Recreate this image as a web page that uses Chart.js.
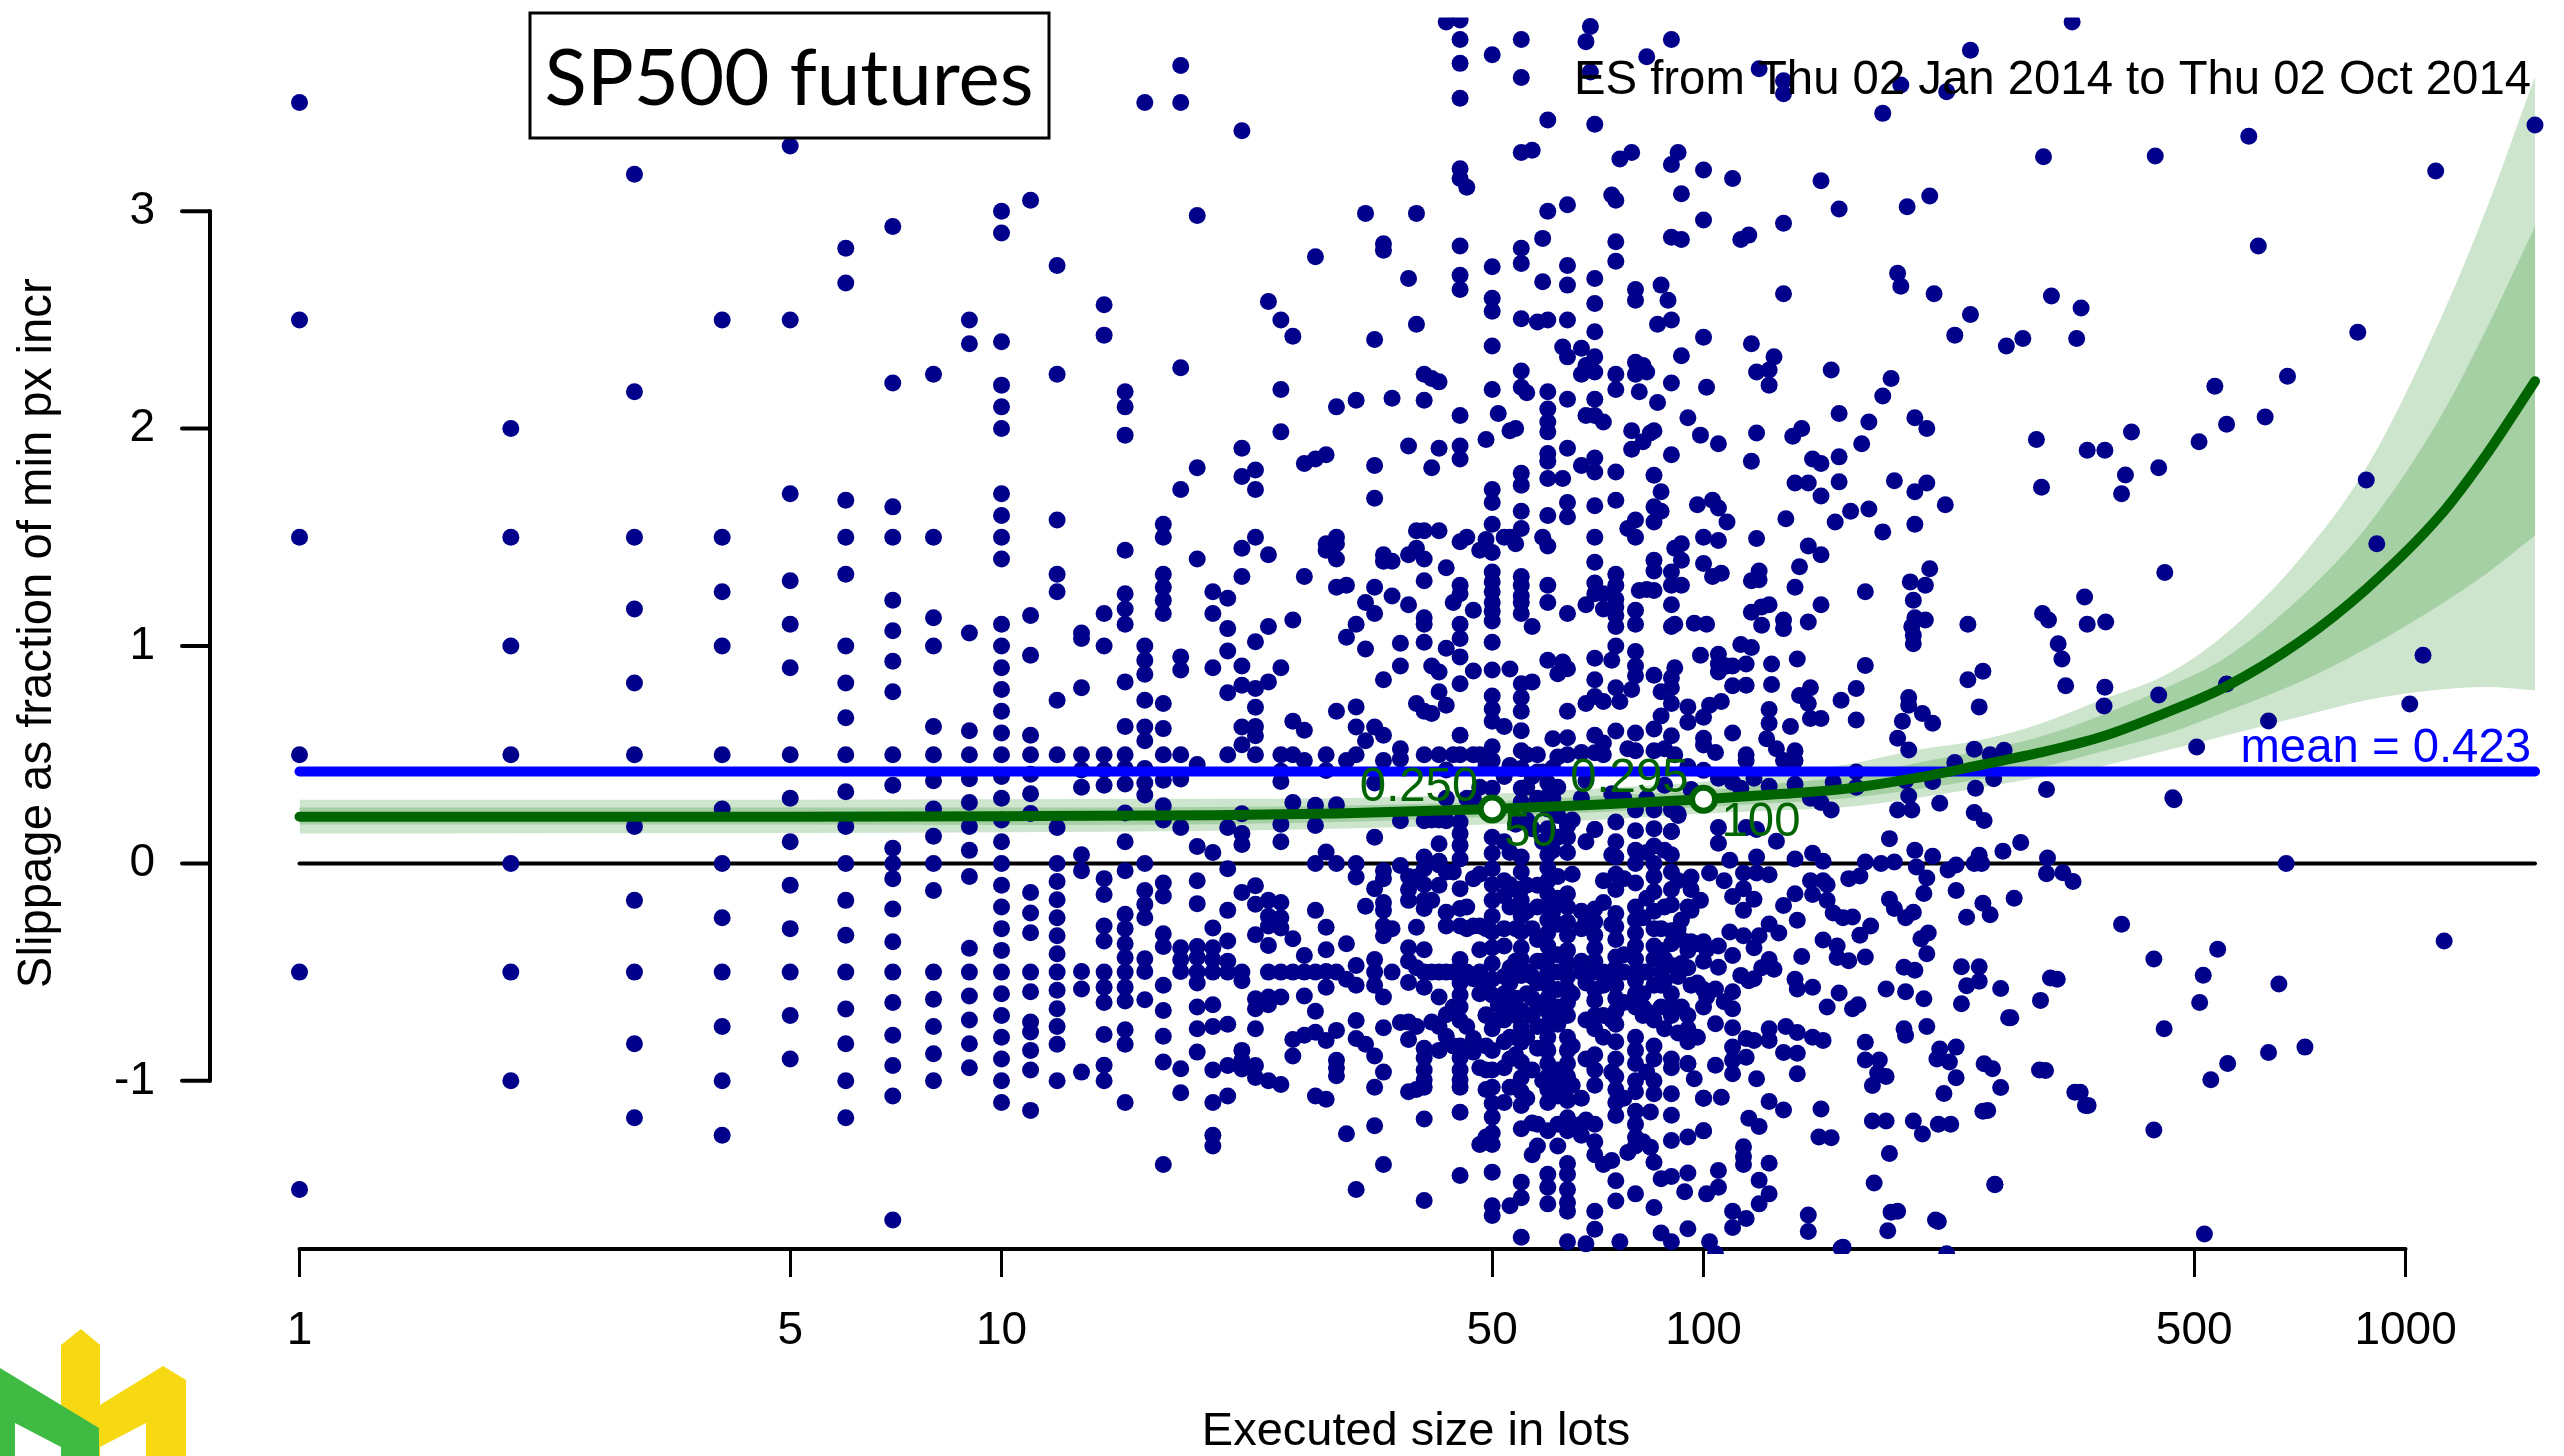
<!DOCTYPE html>
<html><head><meta charset="utf-8">
<style>html,body{margin:0;padding:0;background:#fff}canvas{display:block}</style>
<script src="https://cdn.jsdelivr.net/npm/chart.js@4"></script>
</head><body><canvas id="c" width="2564" height="1456"></canvas>
<script>
const xTickValues=[1,5,10,50,100,500,1000];
const yTickValues=[-1,0,1,2,3];
const meanSlip=0.423;
// fitted curve and its two confidence bands
const fitLots=[1,5,10,20,30,50,70,100,130,160,200,250,300,367,457,556,707,881,1120,1300,1529];
const fitLine=[.215,.215,.217,.222,.23,.25,.27,.295,.32,.344,.392,.455,.508,.58,.695,.815,1.02,1.265,1.6,1.875,2.218];
const outerHigh=[.293,.293,.295,.297,.3,.32,.345,.376,.42,.455,.52,.57,.64,.75,.87,1.06,1.4,1.824,2.5,3,3.62];
const innerHigh=[.257,.257,.257,.26,.265,.285,.31,.335,.37,.4,.46,.52,.58,.678,.81,.95,1.221,1.549,2.05,2.45,2.93];
const innerLow=[.179,.179,.177,.18,.19,.215,.235,.26,.28,.3,.34,.39,.44,.513,.596,.7,.834,.99,1.19,1.33,1.508];
const outerLow=[.1375,.14,.143,.15,.16,.18,.2,.23,.245,.26,.3,.35,.395,.445,.52,.59,.675,.752,.8,.812,.797];
const markerLots=[50,100];
const markerFit=[.25,.295];
// executions: small sizes, per lot size
const lowLots=[1,2,3,4,5,6,7,8,9,10,11,12];
const lowSlips=[
[3.5,2.5,1.5,.5,-.5,-1.5],
[2,1.5,1,.5,0,-.5,-1],
[3.17,2.17,1.5,1.17,.83,.5,.17,-.17,-.5,-.83,-1.17],
[2.5,1.5,1.25,1,.5,.25,0,-.25,-.5,-.75,-1,-1.25],
[3.3,2.5,1.7,1.3,1.1,.9,.5,.3,.1,-.1,-.3,-.5,-.7,-.9],
[2.83,2.67,1.67,1.5,1.33,1,.83,.67,.5,.33,.17,0,-.17,-.33,-.5,-.67,-.83,-1,-1.17],
[2.93,2.21,1.64,1.5,1.21,1.07,.93,.79,.5,.36,.07,0,-.07,-.21,-.36,-.5,-.64,-.79,-.93,-1.07,-1.64],
[2.25,1.5,1.13,1,.63,.5,.38,.25,.125,0,-.125,-.5,-.625,-.75,-.875,-1],
[2.5,2.39,1.06,.61,.5,.39,.28,.17,.06,-.06,-.39,-.5,-.61,-.72,-.83,-.94],
[3,2.9,2.4,2.2,2.1,2,1.7,1.6,1.5,1.4,1.1,1,.9,.8,.7,.6,.5,.4,.3,.2,.1,0,-.1,-.2,-.3,-.4,-.5,-.6,-.7,-.8,-.9,-1,-1.1],
[3.05,1.14,.957,.59,.5,.41,.32,.23,-.134,-.228,-.319,-.5,-.59,-.73,-.775,-.86,-.95,-1.136],
[2.75,2.25,1.58,1.33,1.25,.75,.5,.165,0,-.083,-.167,-.25,-.333,-.415,-.5,-.583,-.668,-.75,-.832,-1]
];
// executions: mid sizes, per lot size
const midLots=[13,14,15,16,17,18,19,20,21,22,23,24,25,26,27,28,29,30,31,32,33,34,35,36,37,38,39,40,41,42,43,44,45,46,47,48,49,50,51,52,53,54,55,56,57,58,59,60];
const midSlips=[
[1.06,1.035,.808,.5,.43,.35,.04,-.034,-.497,-.578,-.96],
[2.57,2.43,1.15,1,.5,.43,.36,-.07,-.143,-.288,-.357,-.5,-.57,-.64,-.787,-.928,-1],
[2.17,2.1,1.97,1.44,1.24,1.17,1.1,.835,.63,.5,.437,.365,.232,.1,-.034,-.234,-.3,-.37,-.433,-.5,-.57,-.633,-.765,-.832,-1.1],
[3.5,1,.935,.87,.75,.627,.564,.437,.37,.315,0,-.125,-.188,-.25,-.438,-.497,-.627],
[1.56,1.5,1.33,1.27,1.21,1.15,.736,.62,.5,.383,.265,.2,-.09,-.15,-.324,-.382,-.56,-.677,-.795,-.913,-1.385],
[3.67,3.5,2.28,1.72,.95,.89,.5,.388,.165,-.388,-.442,-.497,-.944,-1.055],
[2.98,1.82,1.4,.455,.078,-.08,-.185,-.382,-.433,-.5,-.55,-.66,-.76,-.868],
[1.25,1.15,.9,.05,-.297,-.388,-.442,-.5,-.65,-.75,-.95,-1.1,-1.25,-1.3],
[1.22,1.08,.977,.785,.5,.165,-.025,-.216,-.357,-.45,-.5,-.74,-.93,-1.07],
[3.37,1.91,1.78,1.45,1.32,.908,.82,.627,.546,.228,.138,.087,-.134,-.5,-.54,-.86,-.905,-.946],
[1.81,1.72,1.5,1.02,.805,.718,.63,.587,.5,-.103,-.188,-.328,-.623,-.668,-.76,-.93,-.985],
[2.585,1.42,1.09,.835,-.17,-.243,-.288,-.378,-.5,-.614,-.65,-1],
[2.5,2.18,1.985,.9,.5,.424,.377,.18,.1,-.18,-.25,-.297,-.5,-.614,-1.017],
[2.425,1.12,.654,.5,.28,-.346,-.5,-.81,-.886],
[1.84,1.32,.612,.473,-.424,-.5,-.61,-.79],
[2.79,1.86,.268,.174,0,-.216,-.5,-.68,-.777,-1.07],
[1.88,1.47,1.44,.5,.427,.053,-.294,-.397,-.497,-.57,-.814,-1.085],
[2.1,1.5,1.47,1.4,1.27,.7,.27,0,-.5,-.768,-.905,-.94,-.977],
[1.28,1.04,.473,-.37,-.533,-1.243],
[2.13,1.1,.72,.627,.5,0,-.062,-.47,-.56,-.723,-.805,-1.5],
[2.99,1.2,.986,.564,-.197,-.832],
[2.41,1.83,1.68,1.27,1.15,.627,.37,.12,-.116,-.442,-.5,-.56,-.886,-1.03,-1.207],
[2.85,2.82,1.42,1.39,.845,.59,.473,-.034,-.07,-.18,-.216,-.288,-.333,-.614,-.756,-.96,-1.385],
[2.14,1.39,1.23,-.3,-.5],
[1.013,.908,.527,.48,.196,-.01,-.732],
[2.69,1.92,1.42,1.19,-.388,-.45,-.548,-.81,-1.05,-.06,-.12,-.17,-.73],
[2.99,2.48,1.53,1.45,.736,-.062,-.294,-1.04,-.75,-.48],
[2.25,2.13,1.53,1.4,1.3,1.13,1.1,1.017,.7,.5,.196,.03,-.025,-.098,-.17,-.207,-.397,-.5,-.57,-.85,-.895,-.95,-.995,-1.03,-1.176,-1.55],
[2.23,1.82,.908,.69,-.17,-.5,-.73,.2],
[2.215,1.91,1.53,.88,.79,.5,.2,.09,-.007,-.614,-.75,.01,-.5,-.86,-.1],
[3.87,1.36,.99,.727,.196,-.225,-.288,-.696,-.795,.43,.3,-.5,-.04],
[1.2,-.04,-.5,-.84,-.66,.5],
[3.88,3.79,3.68,3.52,3.195,3.15,2.84,2.705,2.64,2.06,1.92,1.86,1.48,1.28,1.24,1.1,1.035,.95,.826,.59,.5,.19,.137,.083,.02,-.116,-.207,-.288,-.442,-.5,-.55,-.605,-.66,-.723,-.84,-.895,-.95,-.995,-1.03,-1.145,-1.435],
[3.11,1.5,-.5,-.2,-.3,.3,-.75],
[1.165,.885,-.07,-.288,-.805,-.868,-.53,.3,.5],
[1.44,-.288,-.397,-.94,-1.293,-.5,-.6,-.05,.5,.35],
[1.95,1.49,-.696,-1.04,-1.258,-.55,-.7,-.84,-.95,.45,-.3],
[3.72,2.745,2.6,2.54,2.38,2.18,1.72,1.66,1.56,1.43,1.34,1.295,1.25,1.2,1.16,1.115,1.017,.89,.77,.71,.654,.537,.473,.346,.12,.047,-.025,-.098,-.17,-.243,-.315,-.388,-.46,-.533,-.605,-.76,-.86,-.95,-1.03,-1.103,-1.167,-1.24,-1.293,-1.42,-1.575,-1.62],
[2.07,-.65,-.72],
[1.5,.63,-.15,-.3,-.52,-.6,-.67,-.72,-.94,.4,.1,-.08,-.38,-.82,-1.1],
[1.99,1.5,.894,-.098,-.2,-.55,-.8,-1.03,-1.575,.45,.05,-.48,-.66,-.9],
[2,1.47,-.3,-.45,-.62,-.7,.18,-.12,-.5,-.88],
[3.79,3.615,3.27,2.83,2.76,2.505,2.265,2.19,1.795,1.74,1.62,1.54,1.32,1.28,1.23,1.2,1.15,.826,.763,.7,.61,.518,.437,.346,.283,.03,-.04,-.116,-.17,-.243,-.315,-.388,-.442,-.515,-.677,-.75,-.822,-.913,-.986,-1.05,-1.113,-1.22,-1.466,-1.538,-1.72],
[2.165,.35,.2,-.1,-.22,-.5,-.6,.5,-.8,-1.08],
[3.28,1.09,.835,-.3,-.52,-.7,-1.194,-1.34,.4,.16,-.62,-.95],
[2.49,.42,.5,.3,-.1,-.2,-.35,-.45,-.55,-.65,-.75,-.85,-1.2,-1.3],
[2.875,2.675,1.5,.42,.1,-.45,-.65,-.85,-1],
[3.42,3,2.5,2.17,2.09,2.03,1.985,1.885,1.85,1.77,1.6,1.46,1.28,1.2,.935,.37,.31,.25,.16,.1,.04,-.02,-.08,-.14,-.2,-.26,-.32,-.38,-.44,-.5,-.56,-.62,-.68,-.74,-.8,-.86,-.92,-.98,-1.04,-1.1,-1.23,-1.43,-1.49,-1.566]
];
// executions: dense columns of large sizes
const denseLots=[62,64,67,70,72,75,80,82,85,87,90,93,95,98,100];
const denseSlips=[
[.35,.22,.12,-.06,-.16,-.28,-.42,-.5,-.58,-.66,-.74,-.95,-1.01,-1.07,-1.2,-1.3],
[.174,.12,.05,-.14,-.2,-.27,-.33,-.4,-.46,-.52,-.58,-.64,-.7,-.8,-.86,-.92,-.98,-1.03,-1.09,-1.17,-1.23,-1.38,-1.43,-1.5,-1.56,-1.6,-1.74],
[.3,-.22,-.3,-.45,-.5,-1.08,-1.2,-1.25],
[.156,-.21,-.27,-.33,-.39,-.45,-.5,-.58,-.63,-.7,-.76,-.88,-.95,-1.02,-1.2,-1.28,-1.34,-1.6,-1.683],
[-.08,-.18,-.5,-.56,-.7,-.8,-1.385],
[.19,.1,.03,-.05,-.12,-.23,-.29,-.35,-.43,-.48,-.56,-.62,-.68,-.74,-.82,-.9,-.98,-1.04,-1.1,-1.16,-1.46,-1.553],
[.246,.15,.06,0,-.09,-.2,-.26,-.32,-.38,-.44,-.5,-.54,-.6,-.66,-.8,-.86,-.92,-1,-1.05,-1.14,-1.2,-1.26,-1.3,-1.52],
[-.25,-.5,-.6,-.66,-.7,-1.28],
[.246,.16,.08,0,-.06,-.13,-.22,-.3,-.38,-.44,-.56,-.72,-.84,-.9,-1,-1.06,-1.375,-1.583],
[-.3,-.4,-.5,-.56,-.66,-1.45,-1.7],
[.147,.04,-.04,-.12,-.19,-.31,-.37,-.47,-.6,-.66,-.7,-.9,-.94,-1.06,-1.158,-1.275,-1.44,-1.74],
[-.26,-.35,-.46,-.66],
[-.2,-.4,-.48,-.7,-.76,-.82,-.92,-1.258,-1.424,-1.68],
[-.37,-.55,-.8],
[-.36,-.45,-.58,-.66,-1.08,-1.23]
];
// executions: a few more in the crowded centre, estimated by eye
const packedLots=[61,65,68,74,77,83,88,92,96];
const packedSlips=[
[.44,.3,.06,-.22,-.5,-.7,-1.02],
[.2,-.05,-.6,-.84,-1.02,-1.2],
[.38,.1,-.26,-.55,-.72,-.9,-1.18],
[.32,.04,-.28,-.5,-.72,-.96],
[.3,-.07,-.42,-.5,-.64,-1.08],
[.3,.05,-.16,-.5,-.68,-.96],
[.36,.06,-.2,-.44,-.54,-.76],
[.22,-.08,-.3,-.52,-.78],
[.34,-.12,-.36,-.56]
];
// single executions, flat pairs: lots, slippage
const upperPairs=[69,3.85,68,3.78,69,3.64,90,3.79,83,3.71,120,3.655,130,3.6,130,3.54,191,3.58,222,3.55,240,3.74,335,3.87,180,3.45,70,3.4,79,3.27,76,3.24,92,3.27,90,3.215,100,3.19,110,3.15,147,3.14,305,3.25,210,3.07,195,3.02,156,3.01,74,3.075,75,3.05,93,3.08,64,3.03,100,2.96,130,2.945,116,2.89,113,2.87,90,2.88,93,2.87,75,2.86,75,2.77,64,2.75,70,2.69,64,2.66,87,2.66,80,2.64,80,2.59,89,2.59,70,2.575,130,2.62,189,2.715,191,2.655,213,2.62,313,2.61,345,2.555,240,2.525,228,2.43,270,2.38,285,2.415,340,2.415,90,2.5,86,2.48,64,2.5,70,2.445,100,2.42,117,2.39,126,2.33,63,2.375,67,2.37,64,2.33,70,2.33,68,2.29,67,2.25,70,2.26,75,2.25,75,2.18,80,2.305,82,2.29,80,2.25,83,2.26,93,2.335,119,2.26,124,2.27,124,2.2,152,2.27,90,2.21,81,2.17,101,2.19,86,2.12,64,2.135,70,2.135,185,2.23,180,2.15,156,2.07,172,2.03,200,2.05,208,2,298,1.95,352,1.9,68,2.06,70,2.06,72,2.03,95,2.05,79,1.99,84,1.98,85,1.99,99,1.97,105,1.93,119,1.98,138,2,134,1.965,82,1.94,79,1.905,90,1.88,64,1.91,67,1.83,70,1.865,70,1.8,75,1.8,85,1.785,117,1.85,143,1.86,147,1.84,156,1.87,168,1.93,63,1.77,87,1.71,135,1.75,141,1.75,156,1.755,187,1.76,208,1.75,200,1.71,147,1.69,303,1.73,221,1.65,172,1.63,162,1.62,154,1.57,180,1.525,200,1.56,131,1.585,75,1.67,70,1.645,64,1.66,64,1.595,85,1.64,87,1.62,80,1.58,85,1.57,78,1.54,80,1.5,70,1.5,98,1.65,103,1.67,105,1.635,108,1.57,100,1.5,105,1.485,119,1.495,91,1.45,93,1.47,141,1.46,147,1.42,93,1.395,100,1.38,85,1.395,85,1.345,70,1.385,137,1.365,120,1.345,210,1.355,90,1.34,106,1.335,103,1.32,90,1.28,93,1.28,117,1.3,120,1.305,75,1.33,75,1.28,70,1.29,197,1.295,207,1.28,135,1.27,170,1.25,199,1.21,81,1.255,83,1.26,85,1.255,349,1.225,90,1.19,147,1.19,124,1.19,121,1.18,117,1.155,64,1.15,80,1.165,75,1.215,75,1.18,75,1.14,75,1.09,68,1.19,70,1.24,72,1.24,72,1.17,80,1.1,304,1.15,310,1.12,238,1.1,200,1.13,207,1.12,198,1.09,141,1.11,130,1.12,121,1.095,130,1.08,90,1.09,91,1.1,97,1.105,101,1.1,352,1.1,
1529,3.396,1104,3.185,598,3.345,440,3.254,617,2.84,855,2.443,679,2.241,535,2.195,556,2.02,631,2.053,508,1.94,407,1.984,373,1.9,399,1.787,394,1.7,445,1.82,879,1.764,910,1.47,454,1.338,374,1.11];
const midPairs=[199,1.01,199,1.05,320,1.01,324,.94,328,.817,250,.884,238,.845,247,.72,170,.91,165,.805,157,.75,165,.66,196,.763,196,.727,205,.69,212,.645,192,.654,189,.576,196,.522,243,.525,228,.464,256,.5,268,.52,259,.39,308,.34,244,.346,212,.377,194,.38,165,.35,165,.42,196,.31,217,.277,243,.234,251,.197,189,.246,198,.246,152,.246,147,.28,142,.3,184,.114,283,.096,267,.056,200,.06,212,.033,247,.038,243,0,249,0,229,-.007,223,-.03,201,-.016,187,.007,179,0,170,.007,161,-.07,167,-.058,143,.047,148,.01,135,.02,119,.03,109,.015,309,.025,308,-.047,325,-.043,336,-.083,
373,.81,372,.724,445,.775,556,.825,1059,.958,1014,.733,638,.655,504,.536,466,.302,676,0,468,.293,
70,.944,74,.935,75,1,80,.975,63,.926,64,.895,62,.872,80,.908,80,.863,91,.9,90,.854,85,.866,70,.845,75,.808,79,.8,90,.808,90,.736,87,.79,70,.768,68,.736,72,.745,76,.745,64,.7,87,.678,95,.72,95,.649,100,.672,102,.727,106,.745,99,.957,105,.962,105,.917,105,.88,108,.908,110,.908,110,.817,115,.917,115,.82,113,1.007,117,.993,125,.917,125,.823,136,.94,142,.808,137,.772,141,.736,124,.708,147,.667,142,.667,124,.645,133,.63,123,.573,110,.6,100,.576,100,.545,104,.51,115,.5,115,.473,127,.527,135,.518,130,.473,135,.473,75,.609,80,.6,64,.578,70,.59,85,.618,90,.587,61,.573,72,.554,78,.527,80,.518,88,.527,85,.518,70,.509,72,.5,64,.5,62,.49,67,.51,91,.5,95,.446,100,.428,105,.392,110,.373,118,.392,124,.355,135,.364,153,.373,113,.346,90,.246,92,.228,90,.147,105,.165,105,.093,115,.165,119,.156,127,.102,70,.156,64,.174];
const lowerPairs=[208,-.067,229,-.125,206,-.138,277,-.16,250,-.183,256,-.236,237,-.248,184,-.165,187,-.207,199,-.225,194,-.25,209,-.32,204,-.346,208,-.415,233,-.475,247,-.475,247,-.542,237,-.563,319,-.533,265,-.575,302,-.63,233,-.645,272,-.71,200,-.491,193,-.478,182,-.578,194,-.59,206,-.623,161,-.448,170,-.43,155,-.433,148,-.352,155,-.38,167,-.33,173,-.288,163,-.246,158,-.25,153,-.228,136,-.261,130,-.194,135,-.14,143,-.143,150,-.17,148,-.08,150,-.098,142,-.08,138,-.428,124,-.279,128,-.32,120,-.333,114,-.216,118,-.165,114,-.116,110,-.152,124,-.052,119,-.044,114,-.044,99,-.17,96,-.216,96,-.062,102,-.044,107,-.08,
156,-.596,150,-.66,163,-.669,166,-.65,143,-.57,136,-.578,135,-.533,126,-.487,124,-.442,121,-.48,116,-.54,118,-.53,113,-.515,105,-.478,101,-.397,105,-.38,109,-.315,114,-.333,118,-.388,110,-.424,101,-.614,104,-.578,110,-.59,107,-.636,110,-.669,104,-.738,110,-.756,115,-.805,118,-.814,124,-.76,131,-.75,136,-.778,143,-.8,148,-.814,124,-.814,130,-.87,136,-.873,110,-.845,110,-.905,115,-.892,104,-.928,110,-.968,136,-.968,119,-.99,170,-.823,170,-.904,178,-.904,177,-.964,182,-.98,174,-1.022,193,-.76,194,-.79,208,-.75,217,-.854,229,-.845,215,-.9,224,-.913,229,-.986,220,-1.058,251,-.922,258,-.944,307,-.953,265,-1.031,344,-1.053,353,-1.113,250,-1.14,225,-1.2,216,-1.2,205,-1.245,199,-1.185,182,-1.185,174,-1.185,184,-1.334,175,-1.47,260,-1.478,189,-1.6,216,-1.647,183,-1.69,141,-1.617,141,-1.693,158,-1.765,147,-1.13,130,-1.134,124,-1.095,146,-1.258,152,-1.262,116,-1.172,120,-1.21,114,-1.303,114,-1.348,114,-1.385,124,-1.379,120,-1.457,124,-1.52,120,-1.566,105,-1.412,105,-1.49,101,-1.52,100,-1.23,106,-1.076,100,-1.08,97,-.99,95,-.922,94,-1.51,110,-1.6,115,-1.633,110,-1.675,102,-1.74,76,-1.74,68,-1.75,74,-1.367,78,-1.33,84,-1.305,84,-1.143,
1135,-.357,540,-.395,438,-.44,515,-.514,660,-.555,312,-.527,394,-.28,719,-.845,638,-.87,558,-.92,528,-.995,453,-.76,509,-.64,438,-1.226,517,-1.705,301,-.95,338,-1.053,350,-1.113,274,-.71,254,-1.137,260,-1.476,214,-1.64,185,-1.604,157,-1.77,222,-1.796,104,-1.796];

const sansFont='"Liberation Sans"';
const toPts=(xs,ys)=>xs.map((x,i)=>({x,y:ys[i]}));
const dots=[];
[[lowLots,lowSlips],[midLots,midSlips],[denseLots,denseSlips],[packedLots,packedSlips]].forEach(([ls,ss])=>ls.forEach((l,i)=>ss[i].forEach(y=>dots.push({x:l,y}))));
[upperPairs,midPairs,lowerPairs].forEach(a=>{for(let i=0;i+1<a.length;i+=2)dots.push({x:a[i],y:a[i+1]});});
const lineBase={pointRadius:0,pointHoverRadius:0,cubicInterpolationMode:'monotone'};
const band=(ys,fill,bg,order)=>({type:'line',data:toPts(fitLots,ys),borderWidth:0,fill,backgroundColor:bg,order,...lineBase,clip:0});
const edge=[1,1529];

const overlay={id:'overlay',
 beforeDatasetsDraw(chart){
  const {ctx,scales:{x,y}}=chart;ctx.save();ctx.strokeStyle='#000';ctx.lineCap='round';
  ctx.lineWidth=4;
  ctx.beginPath();ctx.moveTo(x.getPixelForValue(1),y.bottom);ctx.lineTo(x.getPixelForValue(1000),y.bottom);ctx.stroke();
  const ax=210;
  ctx.beginPath();ctx.moveTo(ax,y.getPixelForValue(3));ctx.lineTo(ax,y.getPixelForValue(-1));ctx.stroke();
  yTickValues.forEach(v=>{const p=y.getPixelForValue(v);ctx.beginPath();ctx.moveTo(ax,p);ctx.lineTo(ax-28,p);ctx.stroke();});
  ctx.restore();
 },
 afterDatasetsDraw(chart){
  const {ctx,scales:{x,y}}=chart;ctx.save();
  // logo
  ctx.fillStyle='#f6d912';
  ctx.beginPath();[[61,1456],[61,1345],[81,1329],[100,1345],[100,1405],[163,1366],[186,1380],[186,1456],[146,1456],[146,1423],[100,1447],[100,1456]].forEach((p,i)=>i?ctx.lineTo(p[0],p[1]):ctx.moveTo(p[0],p[1]));ctx.fill();
  ctx.fillStyle='#3fbb44';
  ctx.beginPath();[[0,1368],[99,1428],[99,1456],[61,1456],[61,1447],[15,1423],[15,1456],[0,1456]].forEach((p,i)=>i?ctx.lineTo(p[0],p[1]):ctx.moveTo(p[0],p[1]));ctx.fill();
  // title box
  ctx.fillStyle='#fff';ctx.fillRect(530,13,519,125);
  ctx.strokeStyle='#000';ctx.lineWidth=3;ctx.strokeRect(530,13,519,125);
  ctx.fillStyle='#000';ctx.font='78px Lato';ctx.textAlign='center';ctx.textBaseline='alphabetic';
  ctx.fillText('SP500 futures',789,105);
  ctx.font='47.3px '+sansFont;ctx.textAlign='right';
  ctx.fillText('ES from Thu 02 Jan 2014 to Thu 02 Oct 2014',2531,94);
  ctx.fillStyle='#0000ff';
  ctx.fillText('mean = '+meanSlip,2531,762);
  // fit annotations
  ctx.fillStyle='#006400';
  const px=(v)=>x.getPixelForValue(v),py=(v)=>y.getPixelForValue(v);
  ctx.textAlign='right';
  ctx.fillText(markerFit[0].toFixed(3),px(markerLots[0])-14,py(markerFit[0])-8);
  ctx.fillText(markerFit[1].toFixed(3),px(markerLots[1])-15,py(markerFit[1])-7);
  ctx.textAlign='left';
  ctx.fillText(String(markerLots[0]),px(markerLots[0])+12,py(markerFit[0])+37);
  ctx.fillText(String(markerLots[1]),px(markerLots[1])+18,py(markerFit[1])+37);
  ctx.restore();
 }};

new Chart(document.getElementById('c'),{
 data:{datasets:[
  {type:'line',data:toPts(edge,[0,0]),borderColor:'#000',borderWidth:4,borderCapStyle:'round',order:9,...lineBase,clip:{left:6,right:6,top:0,bottom:0}},
  band(outerHigh,'+1','#cde4cd',8),
  band(outerLow,false,'transparent',8),
  band(innerHigh,'+1','#a4d0a4',7),
  band(innerLow,false,'transparent',7),
  {type:'scatter',data:dots,backgroundColor:'#00008b',borderWidth:0,pointRadius:8.5,pointHoverRadius:8.5,order:3,clip:{left:12,right:12,top:0,bottom:5}},
  {type:'line',data:toPts(edge,[meanSlip,meanSlip]),borderColor:'#0000ff',borderWidth:10,borderCapStyle:'round',order:2,...lineBase,clip:{left:8,right:8,top:0,bottom:0}},
  {type:'line',data:toPts(fitLots,fitLine),borderColor:'#006400',borderWidth:10,borderCapStyle:'round',order:1,...lineBase,clip:{left:8,right:8,top:0,bottom:0}},
  {type:'scatter',data:toPts(markerLots,markerFit),backgroundColor:'#fff',borderColor:'#006400',borderWidth:6,pointRadius:11.5,pointHoverRadius:11.5,order:0}
 ]},
 options:{responsive:false,animation:false,devicePixelRatio:1,
  layout:{padding:{top:13,right:29,left:0,bottom:0}},
  plugins:{legend:{display:false},tooltip:{enabled:false},title:{display:false}},
  events:[],
  scales:{
   x:{type:'logarithmic',min:.9918,max:1529,
    border:{display:false},
    grid:{drawOnChartArea:false,drawTicks:true,tickLength:28,tickColor:'#000',tickWidth:3,lineWidth:3},
    afterBuildTicks:a=>{a.ticks=xTickValues.map(v=>({value:v}));},
    afterFit:a=>{a.height=207;},
    ticks:{autoSkip:false,maxRotation:0,minRotation:0,padding:27,color:'#000',font:{family:sansFont,size:46},callback:v=>String(v)},
    title:{display:true,text:'Executed size in lots',color:'#000',font:{family:sansFont,size:47,lineHeight:1},padding:0}},
   y:{type:'linear',min:-1.7736,max:3.891,
    border:{display:false},
    grid:{display:false},
    afterBuildTicks:a=>{a.ticks=yTickValues.map(v=>({value:v}));},
    afterFit:a=>{a.width=297;a.paddingTop=0;a.paddingBottom=0;},
    ticks:{autoSkip:false,padding:134,color:'#000',font:{family:sansFont,size:46},callback:v=>String(v)},
    title:{display:true,text:'Slippage as fraction of min px incr',color:'#000',font:{family:sansFont,size:47.3},padding:{top:10,bottom:0}}}
  }},
 plugins:[overlay]
});
</script></body></html>
